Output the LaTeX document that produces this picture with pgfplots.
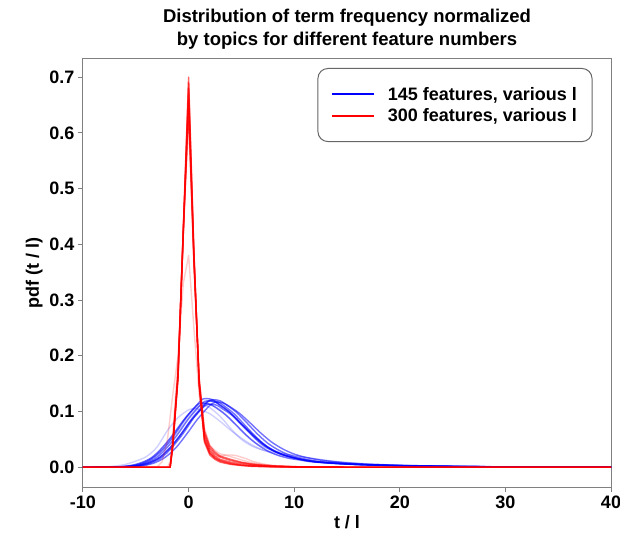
\documentclass[border=0pt]{standalone}
\usepackage{pgfplots}
\pgfplotsset{compat=1.18}
\usepackage{fontspec}
\setmainfont{Liberation Sans}
\begin{document}
\begin{tikzpicture}
\begin{axis}[
  scale only axis, width=528pt, height=428pt,
  xmin=-10, xmax=40, ymin=-0.0355, ymax=0.7325,
  xtick={-10,0,10,20,30,40},
  ytick={0,0.1,0.2,0.3,0.4,0.5,0.6,0.7},
  yticklabel style={/pgf/number format/.cd, fixed, fixed zerofill, precision=1},
  /pgf/number format/assume math mode=true,
  tick label style={font=\bfseries\fontsize{18}{21}\selectfont},
  tick pos=left, tick align=outside, major tick length=5pt,
  tick style={draw=gray, line width=1pt},
  axis line style={draw=gray, line width=1pt},
  title={Distribution of term frequency normalized\\by topics for different feature numbers},
  title style={font=\bfseries\fontsize{18.5}{23}\selectfont, align=center},
  xlabel={t / l}, ylabel={pdf (t / l)},
  label style={font=\bfseries\fontsize{18}{22}\selectfont},
  legend style={at={(0.965,0.979)}, anchor=north east, draw=gray!80!black, line width=1pt,
    rounded corners=10pt, font=\bfseries\fontsize{18}{21}\selectfont,
    inner xsep=13pt, inner ysep=16.5pt, row sep=3pt,
    /tikz/every odd column/.append style={column sep=11pt}},
  legend cell align=left,
  legend image code/.code={\draw[#1] (0pt,0pt) -- (42pt,0pt);},
  bmain/.style={blue, opacity=0.55, line width=1.4pt, smooth, forget plot},
  blight/.style={blue, opacity=0.18, line width=1.4pt, smooth, forget plot},
  rmain/.style={red, opacity=0.6, line width=1.4pt, line join=round, forget plot},
  rlight/.style={red, opacity=0.2, line width=1.4pt, line join=round, forget plot},
]
% ---- 145 features (blue) ----
\addplot[blight] table {
-10 0
-8 0.0005
-7 0.002
-6 0.005
-5 0.011
-4 0.019
-3 0.036
-2 0.066
-1 0.089
0 0.103
0.5 0.105
1 0.104
2 0.096
3 0.082
4 0.066
5 0.052
6 0.040
7 0.031
8 0.025
9 0.020
10 0.016
12 0.011
14 0.008
16 0.006
18 0.004
20 0.003
25 0.0015
30 0.0007
40 0.0001
};
\addplot[blight] table {
-10 0
-7 0.0005
-6 0.002
-5 0.005
-4 0.012
-3 0.025
-2 0.045
-1 0.070
0 0.094
1 0.110
1.5 0.111
2 0.107
3 0.091
4 0.069
5 0.050
6 0.038
7 0.031
8 0.027
9 0.024
10 0.021
12 0.015
14 0.010
16 0.007
18 0.005
20 0.0035
25 0.0016
30 0.0007
40 0.0001
};
\addplot[blight] table {
-10 0
-7 0.0003
-6 0.0015
-5 0.004
-4 0.010
-3 0.022
-2 0.040
-1 0.064
0 0.090
1 0.110
1.5 0.114
2 0.113
3 0.103
4 0.085
5 0.065
6 0.048
7 0.037
8 0.030
9 0.025
10 0.021
12 0.015
14 0.010
16 0.007
18 0.005
20 0.0035
25 0.0016
30 0.0007
40 0.0001
};
\addplot[bmain] table {
-10 0
-7 0.0002
-6 0.001
-5 0.003
-4 0.008
-3 0.018
-2 0.036
-1 0.060
0 0.087
1 0.109
1.5 0.118
2 0.119
2.5 0.117
3 0.111
4 0.097
5 0.078
6 0.059
7 0.042
8 0.030
9 0.022
10 0.017
11 0.013
12 0.010
14 0.007
16 0.005
18 0.0037
20 0.0028
25 0.0014
30 0.0006
35 0.0002
40 0.0001
};
\addplot[bmain] table {
-10 0
-6.5 0.0002
-5.5 0.001
-4.5 0.003
-3.5 0.008
-2.5 0.018
-1.5 0.037
-0.5 0.061
0.5 0.089
1.5 0.111
2 0.120
2.5 0.121
3 0.119
3.5 0.113
4.5 0.099
5.5 0.080
6.5 0.060
7.5 0.043
8.5 0.031
9.5 0.022
10.5 0.017
11.5 0.013
12.5 0.010
14.5 0.007
16.5 0.005
18.5 0.0038
20.5 0.0029
25.5 0.0014
30.5 0.0006
35.5 0.0002
40 0.0001
};
\addplot[bmain] table {
-10 0
-7.5 0.0002
-6.5 0.001
-5.5 0.003
-4.5 0.008
-3.5 0.017
-2.5 0.035
-1.5 0.058
-0.5 0.084
0.5 0.106
1 0.114
1.5 0.115
2 0.113
2.5 0.108
3.5 0.094
4.5 0.076
5.5 0.057
6.5 0.041
7.5 0.029
8.5 0.021
9.5 0.016
10.5 0.013
11.5 0.010
13.5 0.007
15.5 0.005
17.5 0.0036
19.5 0.0027
24.5 0.0014
29.5 0.0006
34.5 0.0002
40 0.0001
};
\addplot[bmain] table {
-10 0
-6.2 0.0002
-5.2 0.001
-4.2 0.003
-3.2 0.008
-2.2 0.018
-1.2 0.035
-0.2 0.059
0.8 0.085
1.8 0.107
2.3 0.115
2.8 0.117
3.3 0.115
3.8 0.110
4.8 0.097
5.8 0.080
6.8 0.062
7.8 0.046
8.8 0.034
9.8 0.025
10.8 0.019
11.8 0.015
12.8 0.012
14.8 0.008
16.8 0.0055
18.8 0.004
20.8 0.003
25.8 0.0015
30.8 0.0006
35.8 0.0002
40 0.0001
};
\addplot[bmain] table {
-10 0
-6.8 0.0002
-5.8 0.001
-4.8 0.003
-3.8 0.008
-2.8 0.017
-1.8 0.034
-0.8 0.057
0.2 0.083
1.2 0.104
1.7 0.112
2.2 0.113
2.7 0.111
3.2 0.105
4.2 0.092
5.2 0.074
6.2 0.056
7.2 0.040
8.2 0.029
9.2 0.021
10.2 0.016
11.2 0.012
12.2 0.0095
14.2 0.0067
16.2 0.0048
18.2 0.0035
20.2 0.0027
25.2 0.0013
30.2 0.0006
35.2 0.0002
40 0.0001
};
\addplot[bmain] table {
-10 0
-7.2 0.0002
-6.2 0.001
-5.2 0.003
-4.2 0.008
-3.2 0.019
-2.2 0.037
-1.2 0.062
-0.2 0.090
0.8 0.112
1.3 0.122
1.8 0.123
2.3 0.121
2.8 0.114
3.8 0.100
4.8 0.080
5.8 0.061
6.8 0.043
7.8 0.031
8.8 0.023
9.8 0.018
10.8 0.013
11.8 0.010
13.8 0.007
15.8 0.005
17.8 0.0038
19.8 0.0029
24.8 0.0014
29.8 0.0006
34.8 0.0002
40 0.0001
};
\addplot[bmain] table {
-10 0
-6.7 0.0002
-5.7 0.001
-4.7 0.003
-3.7 0.008
-2.7 0.018
-1.7 0.036
-0.7 0.060
0.3 0.087
1.3 0.109
1.8 0.118
2.3 0.119
2.8 0.117
3.3 0.111
4.3 0.096
5.3 0.076
6.3 0.056
7.3 0.039
8.3 0.027
9.3 0.020
10.3 0.015
11.3 0.012
12.3 0.009
14.3 0.0065
16.3 0.0047
18.3 0.0035
20.3 0.0026
25.3 0.0013
30.3 0.0006
35.3 0.0002
40 0.0001
};
% ---- 300 features (red) ----
\addplot[rlight] table {
-10 0
-3 0
-2.5 0.01
-2 0.05
-1.5 0.13
-1 0.20
-0.5 0.33
0 0.38
0.5 0.25
1 0.13
1.5 0.06
2 0.03
2.5 0.02
3 0.02
3.5 0.022
4 0.022
4.5 0.021
5 0.018
5.5 0.015
6 0.011
7 0.006
8 0.003
10 0.001
12 0.0003
15 0
40 0
};
\addplot[rlight] table {
-10 0
-2 0
-1.75 0.01
-1.5 0.06
-1 0.19
-0.5 0.42
0 0.62
0.5 0.36
1 0.16
1.5 0.07
2 0.04
2.5 0.03
3 0.024
4 0.019
5 0.013
6 0.008
7 0.005
8 0.003
10 0.001
15 0
40 0
};
\addplot[rmain] table {
-10 0
-1.75 0
-1.5 0.04
-1 0.165
-0.5 0.42
0 0.68
0.5 0.38
1 0.15
1.5 0.05
2 0.025
2.5 0.016
3 0.011
4 0.006
5 0.0035
6 0.002
8 0.0008
10 0.0003
15 0
40 0
};
\addplot[rmain] table {
-10 0
-1.75 0
-1.5 0.035
-1 0.16
-0.5 0.43
0 0.70
0.5 0.39
1 0.145
1.5 0.045
2 0.022
2.5 0.014
3 0.009
4 0.005
5 0.003
6 0.0015
8 0.0006
10 0.0002
15 0
40 0
};
\addplot[rmain] table {
-10 0
-1.75 0
-1.5 0.045
-1 0.17
-0.5 0.42
0 0.65
0.5 0.37
1 0.155
1.5 0.06
2 0.034
2.5 0.024
3 0.018
4 0.012
5 0.008
6 0.005
7 0.003
8 0.002
10 0.0008
12 0.0003
15 0
40 0
};
\addplot[rmain] table {
-10 0
-1.75 0
-1.5 0.04
-1 0.17
-0.5 0.43
0 0.64
0.5 0.38
1 0.16
1.5 0.065
2 0.038
2.5 0.027
3 0.020
4 0.014
5 0.009
6 0.006
7 0.004
8 0.0025
10 0.001
12 0.0004
15 0
40 0
};
\addplot[rmain] table {
-10 0
-1.75 0
-1.5 0.04
-1 0.165
-0.5 0.425
0 0.66
0.5 0.375
1 0.15
1.5 0.055
2 0.03
2.5 0.02
3 0.014
4 0.009
5 0.006
6 0.004
8 0.0015
10 0.0005
15 0
40 0
};
\addplot[rmain] table {
-10 0
-1.75 0
-1.5 0.038
-1 0.16
-0.5 0.425
0 0.69
0.5 0.385
1 0.15
1.5 0.048
2 0.026
2.5 0.017
3 0.012
4 0.007
5 0.004
6 0.0025
8 0.001
10 0.0003
15 0
40 0
};
\addlegendimage{blue, line width=2pt}
\addlegendentry{145 features, various l}
\addlegendimage{red, line width=2pt}
\addlegendentry{300 features, various l}
\end{axis}
\pgfresetboundingbox
\path (current axis.south west) ++(-83pt,-46pt) rectangle ++(620pt,533pt);
\end{tikzpicture}
\end{document}
